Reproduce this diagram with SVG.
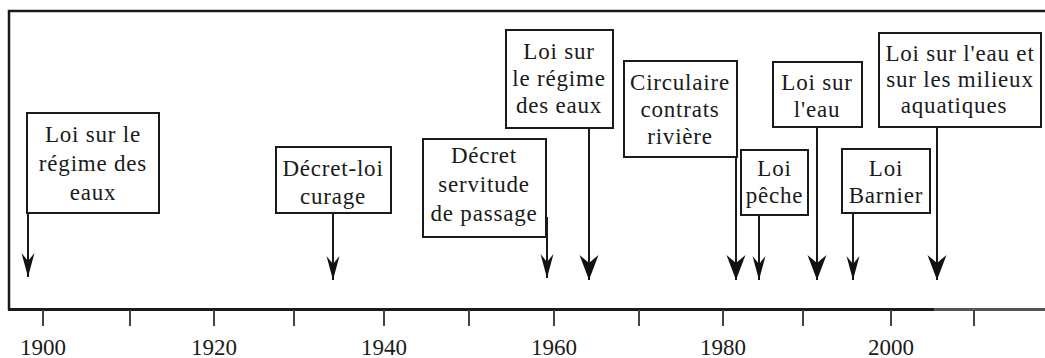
<svg xmlns="http://www.w3.org/2000/svg" width="1045" height="358" viewBox="0 0 1045 358">
<style>
.box{fill:#ffffff;stroke:#1a1a1a;stroke-width:2}
.lbl{font-family:"Liberation Serif",serif;font-size:23px;letter-spacing:0.8px;fill:#1a1a1a;text-anchor:middle}
.yr{font-family:"Liberation Serif",serif;font-size:23px;fill:#1a1a1a;text-anchor:middle}
.frame{stroke:#1a1a1a;stroke-width:2.5;fill:none}
.tick{stroke:#444;stroke-width:2}
.arr{stroke:#1a1a1a;stroke-width:2;fill:none}
.arrS{marker-end:url(#headS)}
.arrB{marker-end:url(#headB)}
</style>
<defs>
<marker id="headS" markerUnits="userSpaceOnUse" viewBox="-25 -8 26 16" markerWidth="26" markerHeight="16" refX="0" refY="0" orient="auto">
<path d="M0,0 L-24,-6.5 L-16,0 L-24,6.5 Z" fill="#111"/>
</marker>
<marker id="headB" markerUnits="userSpaceOnUse" viewBox="-26 -11 27 22" markerWidth="27" markerHeight="22" refX="0" refY="0" orient="auto">
<path d="M0,0 L-25,-9.5 L-17,0 L-25,9.5 Z" fill="#111"/>
</marker>
</defs>
<rect x="0" y="0" width="1045" height="358" fill="#ffffff"/>
<g id="axis">
<path class="frame" d="M9,310 L9,11 L1045,11"/>
<line x1="8" y1="309.5" x2="934" y2="309.5" stroke="#1a1a1a" stroke-width="3"/>
<line x1="934" y1="309.5" x2="1045" y2="309.5" stroke="#555" stroke-width="3"/>
<line class="tick" x1="43" y1="310" x2="43" y2="326"/>
<line class="tick" x1="130" y1="310" x2="130" y2="326"/>
<line class="tick" x1="214" y1="310" x2="214" y2="326"/>
<line class="tick" x1="294" y1="310" x2="294" y2="326"/>
<line class="tick" x1="384" y1="310" x2="384" y2="326"/>
<line class="tick" x1="469" y1="310" x2="469" y2="326"/>
<line class="tick" x1="554" y1="310" x2="554" y2="326"/>
<line class="tick" x1="639" y1="310" x2="639" y2="326"/>
<line class="tick" x1="723" y1="310" x2="723" y2="326"/>
<line class="tick" x1="803" y1="310" x2="803" y2="326"/>
<line class="tick" x1="891" y1="310" x2="891" y2="326"/>
<line class="tick" x1="974" y1="310" x2="974" y2="326"/>
<text class="yr" x="43" y="355">1900</text>
<text class="yr" x="214" y="355">1920</text>
<text class="yr" x="384" y="355">1940</text>
<text class="yr" x="554" y="355">1960</text>
<text class="yr" x="723" y="355">1980</text>
<text class="yr" x="891" y="355">2000</text>
</g>
<g id="connectors">
<line class="arr arrS" x1="28" y1="213" x2="28" y2="277"/>
<line class="arr arrS" x1="333" y1="213" x2="333" y2="280"/>
<line class="arr arrS" x1="547" y1="217" x2="547" y2="278"/>
<line class="arr arrB" x1="589" y1="128" x2="589" y2="280"/>
<line class="arr arrB" x1="736" y1="127" x2="736" y2="280"/>
<line class="arr arrS" x1="759" y1="215" x2="759" y2="280"/>
<line class="arr arrB" x1="817" y1="127" x2="817" y2="280"/>
<line class="arr arrS" x1="853" y1="213" x2="853" y2="280"/>
<line class="arr arrB" x1="937" y1="127" x2="937" y2="280"/>
</g>
<g id="n1900">
<rect class="box" x="27" y="113" width="132" height="100"/>
<text class="lbl" x="93" y="142">Loi sur le</text>
<text class="lbl" x="93" y="171">régime des</text>
<text class="lbl" x="93" y="200">eaux</text>
</g>
<g id="n1935">
<rect class="box" x="276" y="147" width="115" height="66"/>
<text class="lbl" x="333" y="176">Décret-loi</text>
<text class="lbl" x="333" y="204">curage</text>
</g>
<g id="n1959">
<rect class="box" x="423" y="139" width="123" height="98"/>
<text class="lbl" x="484" y="163">Décret</text>
<text class="lbl" x="484" y="192">servitude</text>
<text class="lbl" x="484" y="221">de passage</text>
</g>
<g id="n1964">
<rect class="box" x="506" y="30" width="107" height="98"/>
<text class="lbl" x="559" y="59">Loi sur</text>
<text class="lbl" x="559" y="86">le régime</text>
<text class="lbl" x="559" y="113">des eaux</text>
</g>
<g id="n1981">
<rect class="box" x="624" y="61" width="113" height="96"/>
<text class="lbl" x="680" y="90">Circulaire</text>
<text class="lbl" x="680" y="117">contrats</text>
<text class="lbl" x="680" y="144">rivière</text>
</g>
<g id="n1984">
<rect class="box" x="741" y="150" width="67" height="65"/>
<text class="lbl" x="774.5" y="176">Loi</text>
<text class="lbl" x="774.5" y="203">pêche</text>
</g>
<g id="n1992">
<rect class="box" x="773" y="62" width="89" height="65"/>
<text class="lbl" x="817" y="90">Loi sur</text>
<text class="lbl" x="817" y="117">l'eau</text>
</g>
<g id="n1995">
<rect class="box" x="842" y="149" width="88" height="64"/>
<text class="lbl" x="886" y="176">Loi</text>
<text class="lbl" x="886" y="203">Barnier</text>
</g>
<g id="n2006">
<rect class="box" x="879" y="33" width="162" height="94"/>
<text class="lbl" x="960" y="61">Loi sur l'eau et</text>
<text class="lbl" x="960" y="87">sur les milieux</text>
<text class="lbl" x="954" y="113">aquatiques</text>
</g>
</svg>
